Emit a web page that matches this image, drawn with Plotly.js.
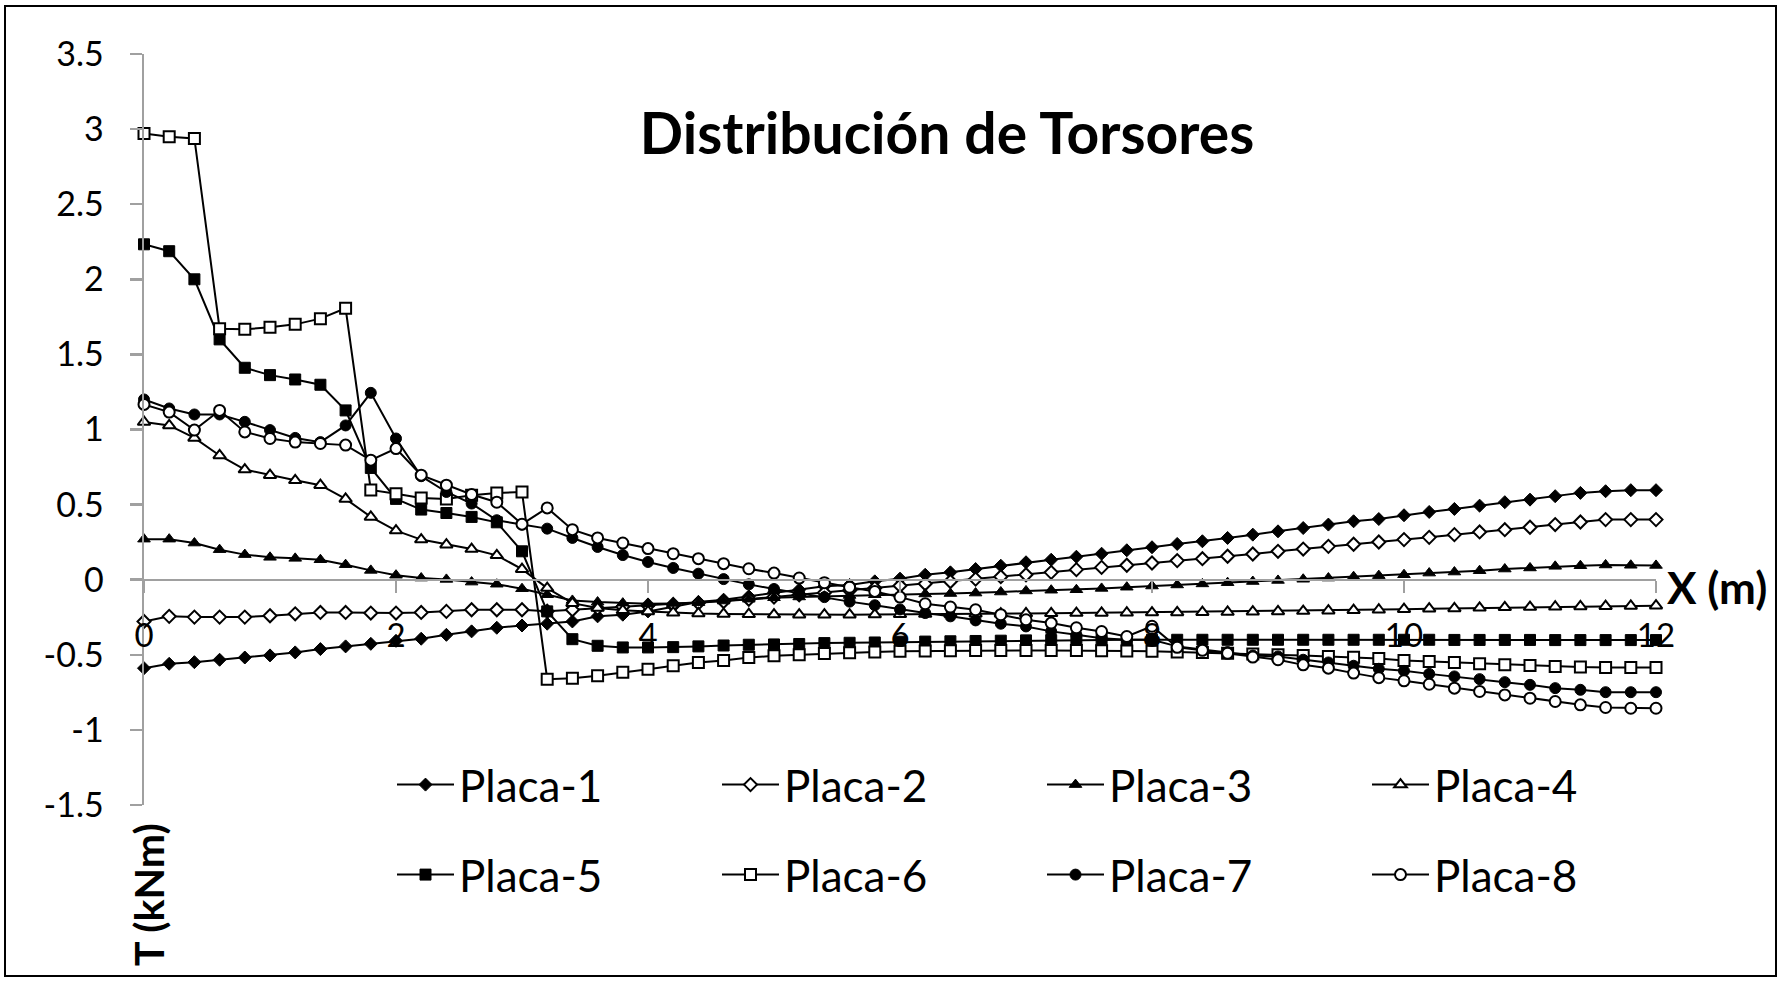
<!DOCTYPE html>
<html><head><meta charset="utf-8">
<script src="https://cdn.plot.ly/plotly-3.0.1.min.js"></script>
<style>html,body{margin:0;padding:0;background:#fff}#chart{width:1781px;height:981px}</style>
</head><body><div id="chart"></div>
<script>
// ---- data ----
const xPos = [0,0.2,0.4,0.6,0.8,1,1.2,1.4,1.6,1.8,2,2.2,2.4,2.6,2.8,3,3.2,3.4,3.6,3.8,4,4.2,4.4,4.6,4.8,5,5.2,5.4,5.6,5.8,6,6.2,6.4,6.6,6.8,7,7.2,7.4,7.6,7.8,8,8.2,8.4,8.6,8.8,9,9.2,9.4,9.6,9.8,10,10.2,10.4,10.6,10.8,11,11.2,11.4,11.6,11.8,12];

const placa1 = [-0.589,-0.56,-0.549,-0.533,-0.518,-0.504,-0.484,-0.462,-0.444,-0.427,-0.407,-0.393,-0.367,-0.344,-0.32,-0.305,-0.293,-0.278,-0.244,-0.233,-0.211,-0.178,-0.149,-0.133,-0.111,-0.084,-0.067,-0.044,-0.035,-0.011,0.007,0.033,0.049,0.071,0.093,0.116,0.133,0.153,0.173,0.196,0.216,0.238,0.256,0.278,0.3,0.322,0.344,0.367,0.389,0.404,0.429,0.451,0.471,0.493,0.516,0.533,0.556,0.578,0.589,0.596,0.596];

const placa2 = [-0.278,-0.244,-0.249,-0.249,-0.249,-0.24,-0.227,-0.218,-0.218,-0.222,-0.222,-0.218,-0.211,-0.2,-0.2,-0.2,-0.21,-0.2,-0.19,-0.18,-0.172,-0.165,-0.155,-0.145,-0.13,-0.115,-0.1,-0.087,-0.072,-0.056,-0.04,-0.027,-0.012,0.004,0.02,0.033,0.049,0.067,0.082,0.096,0.111,0.127,0.14,0.156,0.171,0.189,0.204,0.222,0.236,0.251,0.267,0.282,0.3,0.318,0.333,0.349,0.367,0.384,0.4,0.4,0.4];

const placa3 = [0.27,0.27,0.244,0.2,0.167,0.149,0.142,0.133,0.1,0.062,0.03,0.011,0.002,-0.016,-0.03,-0.06,-0.1,-0.138,-0.149,-0.156,-0.16,-0.158,-0.153,-0.142,-0.13,-0.12,-0.115,-0.11,-0.105,-0.1,-0.097,-0.095,-0.092,-0.089,-0.082,-0.075,-0.07,-0.067,-0.058,-0.05,-0.042,-0.035,-0.028,-0.02,-0.012,-0.005,0.003,0.011,0.02,0.027,0.033,0.044,0.051,0.06,0.071,0.078,0.089,0.093,0.098,0.096,0.095];

const placa4 = [1.05,1.027,0.944,0.827,0.733,0.696,0.662,0.629,0.538,0.418,0.327,0.267,0.233,0.204,0.162,0.07,-0.056,-0.156,-0.189,-0.204,-0.211,-0.22,-0.225,-0.228,-0.23,-0.232,-0.233,-0.233,-0.233,-0.232,-0.23,-0.229,-0.228,-0.227,-0.226,-0.225,-0.224,-0.222,-0.221,-0.22,-0.219,-0.218,-0.216,-0.215,-0.213,-0.211,-0.209,-0.206,-0.203,-0.2,-0.196,-0.193,-0.191,-0.187,-0.184,-0.182,-0.18,-0.178,-0.176,-0.175,-0.173];

const placa5 = [2.233,2.187,2.0,1.6,1.411,1.362,1.333,1.298,1.127,0.744,0.538,0.467,0.444,0.418,0.382,0.189,-0.211,-0.396,-0.44,-0.451,-0.451,-0.449,-0.444,-0.438,-0.433,-0.431,-0.428,-0.422,-0.42,-0.418,-0.413,-0.412,-0.41,-0.408,-0.406,-0.404,-0.402,-0.4,-0.4,-0.4,-0.4,-0.4,-0.4,-0.4,-0.4,-0.4,-0.4,-0.4,-0.4,-0.4,-0.4,-0.4,-0.401,-0.401,-0.401,-0.401,-0.402,-0.402,-0.402,-0.402,-0.402];

const placa6 = [2.971,2.949,2.938,1.671,1.667,1.68,1.7,1.738,1.807,0.598,0.573,0.544,0.538,0.562,0.578,0.584,-0.662,-0.656,-0.64,-0.616,-0.596,-0.573,-0.551,-0.538,-0.518,-0.507,-0.5,-0.492,-0.487,-0.482,-0.477,-0.475,-0.473,-0.471,-0.471,-0.471,-0.472,-0.472,-0.473,-0.474,-0.477,-0.481,-0.484,-0.489,-0.494,-0.5,-0.505,-0.511,-0.517,-0.525,-0.538,-0.544,-0.551,-0.56,-0.567,-0.571,-0.578,-0.582,-0.584,-0.584,-0.584];

const placa7 = [1.2,1.14,1.1,1.1,1.051,0.996,0.944,0.916,1.027,1.244,0.94,0.689,0.584,0.507,0.396,0.367,0.34,0.278,0.218,0.164,0.118,0.078,0.04,0.004,-0.031,-0.062,-0.091,-0.116,-0.146,-0.17,-0.198,-0.222,-0.244,-0.271,-0.293,-0.311,-0.344,-0.367,-0.389,-0.4,-0.4,-0.444,-0.464,-0.482,-0.505,-0.511,-0.533,-0.551,-0.573,-0.593,-0.607,-0.627,-0.644,-0.662,-0.682,-0.7,-0.722,-0.733,-0.749,-0.749,-0.749];

const placa8 = [1.167,1.116,0.996,1.127,0.984,0.94,0.916,0.907,0.896,0.796,0.873,0.696,0.629,0.567,0.516,0.37,0.478,0.333,0.278,0.244,0.207,0.173,0.14,0.107,0.073,0.044,0.011,-0.02,-0.05,-0.078,-0.116,-0.16,-0.182,-0.2,-0.233,-0.267,-0.289,-0.32,-0.345,-0.378,-0.31,-0.45,-0.47,-0.49,-0.515,-0.533,-0.567,-0.589,-0.622,-0.652,-0.673,-0.696,-0.722,-0.744,-0.767,-0.789,-0.811,-0.833,-0.851,-0.856,-0.856];

const seriesNames = ['Placa-1','Placa-2','Placa-3','Placa-4','Placa-5','Placa-6','Placa-7','Placa-8'];
const seriesValues = [placa1,placa2,placa3,placa4,placa5,placa6,placa7,placa8];

const yTickVals = [-1.5,-1,-0.5,0,0.5,1,1.5,2,2.5,3,3.5];
const yTickText = ['-1.5','-1','-0.5','0','0.5','1','1.5','2','2.5','3','3.5'];
const xTickVals = [0,2,4,6,8,10,12];
const xTickText = ['0','2','4','6','8','10','12'];

const chartTitle = 'Distribución de Torsores';
const xLabel = 'X (m)';
const yLabel = 'T (kNm)';

// ---- styles ----
const symbols = ['diamond','diamond','triangle-up','triangle-up','square','square','circle','circle'];
const sizes   = [10,10,11,11,11,11,11,11];
const filled  = [true,false,true,false,true,false,true,false];

const FONT = 'Lato, "Open Sans", sans-serif';
const AXC = '#a0a0a0';

const traces = seriesNames.map((name, i) => ({
  type: 'scatter',
  mode: 'lines+markers',
  name: name,
  x: xPos,
  y: seriesValues[i],
  cliponaxis: false,
  legend: i < 4 ? 'legend' : 'legend2',
  line: {color: '#000', width: 2},
  marker: {
    symbol: symbols[i],
    size: sizes[i],
    color: filled[i] ? '#000' : '#fff',
    line: {color: '#000', width: filled[i] ? 1 : 2}
  }
}));

const legendCommon = {
  orientation: 'h',
  xanchor: 'left',
  yanchor: 'middle',
  x: (392 - 144) / 1512,
  entrywidth: 253,
  entrywidthmode: 'pixels',
  itemwidth: 57,
  bgcolor: 'rgba(0,0,0,0)',
  borderwidth: 0,
  font: {family: FONT, size: 44, color: '#000'}
};

const layout = {
  width: 1781,
  height: 981,
  margin: {l: 144, r: 125, t: 54, b: 176, pad: 0},
  paper_bgcolor: '#fff',
  plot_bgcolor: '#fff',
  showlegend: true,
  title: {
    text: chartTitle,
    font: {family: FONT, size: 57, color: '#000', weight: 'bold'},
    xref: 'container', yref: 'container',
    x: 947 / 1781, xanchor: 'center',
    y: 1 - 134 / 981, yanchor: 'middle'
  },
  xaxis: {
    range: [0, 12],
    anchor: 'free',
    position: 0.3,
    tickvals: xTickVals,
    ticktext: xTickText,
    ticks: 'outside',
    ticklen: 12,
    tickwidth: 2.5,
    tickcolor: AXC,
    showline: true,
    linecolor: AXC,
    linewidth: 2.5,
    showgrid: false,
    zeroline: false,
    ticklabelstandoff: 14,
    tickfont: {family: FONT, size: 33, color: '#000'}
  },
  yaxis: {
    range: [-1.5, 3.5],
    tickvals: yTickVals,
    ticktext: yTickText,
    ticks: 'outside',
    ticklen: 12,
    tickwidth: 2.5,
    tickcolor: AXC,
    showline: true,
    linecolor: AXC,
    linewidth: 2.5,
    showgrid: false,
    zeroline: false,
    ticklabelstandoff: 19,
    tickfont: {family: FONT, size: 34, color: '#000'}
  },
  legend: Object.assign({}, legendCommon, {y: (805 - 785) / 751}),
  legend2: Object.assign({}, legendCommon, {y: (805 - 875) / 751}),
  annotations: [
    {
      text: xLabel, showarrow: false,
      xref: 'paper', yref: 'paper',
      x: (1665 - 144) / 1512, xanchor: 'left',
      y: (805 - 587) / 751, yanchor: 'middle',
      font: {family: FONT, size: 44, color: '#000', weight: 'bold'}
    },
    {
      text: yLabel, showarrow: false, textangle: -90,
      xref: 'paper', yref: 'paper',
      x: (148 - 144) / 1512, xanchor: 'center',
      y: (805 - 895) / 751, yanchor: 'middle',
      font: {family: FONT, size: 41, color: '#000', weight: 'bold'}
    }
  ],
  shapes: [
    {
      type: 'rect', xref: 'paper', yref: 'paper', layer: 'below',
      x0: (5 - 144) / 1512, x1: (1776 - 144) / 1512,
      y0: (805 - 976) / 751, y1: (805 - 6) / 751,
      line: {color: '#000', width: 2}, fillcolor: 'rgba(0,0,0,0)'
    }
  ]
};

Plotly.newPlot('chart', traces, layout, {displayModeBar: false, staticPlot: true});
</script>
</body></html>
